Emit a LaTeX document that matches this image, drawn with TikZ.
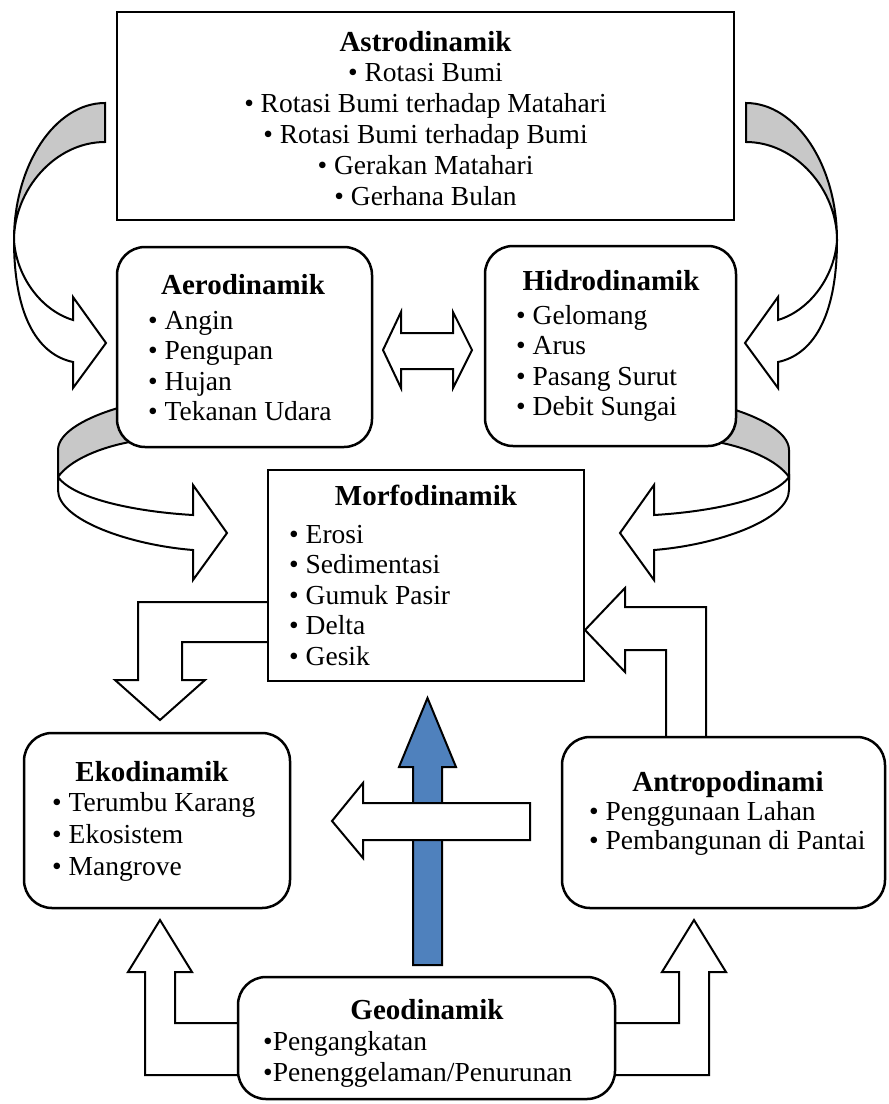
\documentclass[tikz,border=0pt]{standalone}
\usepackage{fontspec}
\setmainfont{Liberation Serif}
\usepackage{tikz}
\definecolor{backgray}{RGB}{200,200,200}
\definecolor{upblue}{RGB}{79,129,189}

\tikzset{
  box/.style={draw,line width=2.5pt,fill=white,inner sep=0pt},
  roundbox/.style={box,rounded corners=28pt},
  blockarrow/.style={draw,line width=2pt,fill=white,line join=miter},
  boxtitle/.style={font=\bfseries\fontsize{29}{32}\selectfont,inner sep=0pt,anchor=base},
  items/.style={font=\fontsize{27.5}{30.5}\selectfont,inner sep=0pt,anchor=base west,align=left},
}

\begin{document}
\begin{tikzpicture}[x=1pt,y=-1pt]
    \useasboundingbox (0,0) rectangle (889,1104);

    % curved arrows astro -> aero / hidro
    \draw[blockarrow,fill=backgray] (105,103) .. controls (55,103) and (14,165) .. (14,240)
        .. controls (14,190) and (55,142) .. (105,142) -- cycle;
    \draw[blockarrow] (14,240) .. controls (16,275) and (40,310) .. (73,320) -- (73,297) -- (106,343)
        -- (73,388) -- (73,362) .. controls (40,355) and (14,320) .. (14,240) -- cycle;
    \begin{scope}[xshift=851pt,xscale=-1]
        \draw[blockarrow,fill=backgray] (105,103) .. controls (55,103) and (14,165) .. (14,240)
            .. controls (14,190) and (55,142) .. (105,142) -- cycle;
        \draw[blockarrow] (14,240) .. controls (16,275) and (40,310) .. (73,320) -- (73,297) -- (106,343)
            -- (73,388) -- (73,362) .. controls (40,355) and (14,320) .. (14,240) -- cycle;
    \end{scope}

    % curved arrows aero / hidro -> morfo
    \draw[blockarrow,fill=backgray] (125,406) .. controls (88,416) and (58,432) .. (58,450) -- (58,477)
        .. controls (70,460) and (100,447) .. (135,441) -- cycle;
    \draw[blockarrow] (58,477) .. controls (75,500) and (140,512) .. (193,515) -- (193,485) -- (227,533)
        -- (193,580) -- (193,550) .. controls (130,545) and (58,520) .. (58,490) -- cycle;
    \begin{scope}[xshift=847pt,xscale=-1]
        \draw[blockarrow,fill=backgray] (125,406) .. controls (88,416) and (58,432) .. (58,450) -- (58,477)
            .. controls (70,460) and (100,447) .. (135,441) -- cycle;
        \draw[blockarrow] (58,477) .. controls (75,500) and (140,512) .. (193,515) -- (193,485) -- (227,533)
            -- (193,580) -- (193,550) .. controls (130,545) and (58,520) .. (58,490) -- cycle;
    \end{scope}

    % aero <-> hidro
    \draw[blockarrow] (383,350) -- (401,312) -- (401,333) -- (453,333) -- (453,312) -- (472,350)
        -- (453,388) -- (453,369) -- (401,369) -- (401,388) -- cycle;

    % morfo -> eko, antropo -> morfo
    \draw[blockarrow] (270,602) -- (138,602) -- (138,680) -- (115,680) -- (160,720) -- (205,680)
        -- (182,680) -- (182,642) -- (270,642);
    \draw[blockarrow] (706,739) -- (706,607) -- (625,607) -- (625,588) -- (585,630) -- (625,672)
        -- (625,650) -- (666,650) -- (666,739);

    % geo -> morfo (blue), antropo -> eko
    \draw[blockarrow,fill=upblue] (413,965) -- (413,767) -- (399,767) -- (427.5,698) -- (456,767)
        -- (442,767) -- (442,965) -- cycle;
    \draw[blockarrow] (530,803) -- (363,803) -- (363,783) -- (332,821) -- (363,858) -- (363,840)
        -- (530,840) -- cycle;

    % geo -> eko / antropo
    \draw[blockarrow] (240,1075) -- (145,1075) -- (145,972) -- (128,972) -- (160,920) -- (192,972)
        -- (175,972) -- (175,1023) -- (240,1023);
    \begin{scope}[xshift=854pt,xscale=-1]
        \draw[blockarrow] (240,1075) -- (145,1075) -- (145,972) -- (128,972) -- (160,920) -- (192,972)
            -- (175,972) -- (175,1023) -- (240,1023);
    \end{scope}

    % boxes
    \node[box,minimum width=617pt,minimum height=208pt] (astro) at (425.5,116) {};
    \node[roundbox,minimum width=255pt,minimum height=200pt] (aero) at (244.5,347) {};
    \node[roundbox,minimum width=251pt,minimum height=200pt] (hidro) at (610.5,346) {};
    \node[box,minimum width=316pt,minimum height=211pt] (morfo) at (426,575.5) {};
    \node[roundbox,minimum width=266pt,minimum height=175pt] (eko) at (157,820.5) {};
    \node[roundbox,minimum width=323pt,minimum height=171pt] (antropo) at (723.5,822.5) {};
    \node[roundbox,minimum width=377pt,minimum height=122pt] (geo) at (426.5,1038) {};

    % astrodinamik (base = last line)
    \node[boxtitle] (astrotitle) at (425.5,51) {Astrodinamik};
    \node[items,anchor=base,align=center] (astrolist) at (425.5,205) {\textbullet\ Rotasi Bumi\\[0.5pt]
        \textbullet\ Rotasi Bumi terhadap Matahari\\[0.5pt] \textbullet\ Rotasi Bumi terhadap Bumi\\[0.5pt]
        \textbullet\ Gerakan Matahari\\[0.5pt] \textbullet\ Gerhana Bulan};

    % aerodinamik, hidrodinamik
    \node[boxtitle] (aerotitle) at (243,294) {Aerodinamik};
    \node[items] (aerolist) at (148,420.5) {\textbullet\ Angin\\ \textbullet\ Pengupan\\
        \textbullet\ Hujan\\ \textbullet\ Tekanan Udara};
    \node[boxtitle] (hidrotitle) at (611,290) {Hidrodinamik};
    \node[items] (hidrolist) at (516,415.5) {\textbullet\ Gelomang\\ \textbullet\ Arus\\
        \textbullet\ Pasang Surut\\ \textbullet\ Debit Sungai};

    % morfodinamik
    \node[boxtitle] (morfotitle) at (426,505) {Morfodinamik};
    \node[items] (morfolist) at (289,665) {\textbullet\ Erosi\\ \textbullet\ Sedimentasi\\
        \textbullet\ Gumuk Pasir\\ \textbullet\ Delta\\ \textbullet\ Gesik};

    % ekodinamik, antropodinami
    \node[boxtitle] (ekotitle) at (152,781) {Ekodinamik};
    \node[items] (ekolist) at (52,875) {\textbullet\ Terumbu Karang\\[1.5pt] \textbullet\ Ekosistem\\[1.5pt]
        \textbullet\ Mangrove};
    \node[boxtitle] (antropotitle) at (728,791) {Antropodinami};
    \node[items] (antropolist) at (589,849) {\textbullet\ Penggunaan Lahan\\[-1.5pt] \textbullet\ Pembangunan di Pantai};

    % geodinamik
    \node[boxtitle] (geotitle) at (427,1019) {Geodinamik};
    \node[items] (geolist) at (263,1081) {\textbullet Pengangkatan\\ \textbullet Penenggelaman/Penurunan};
\end{tikzpicture}
\end{document}
